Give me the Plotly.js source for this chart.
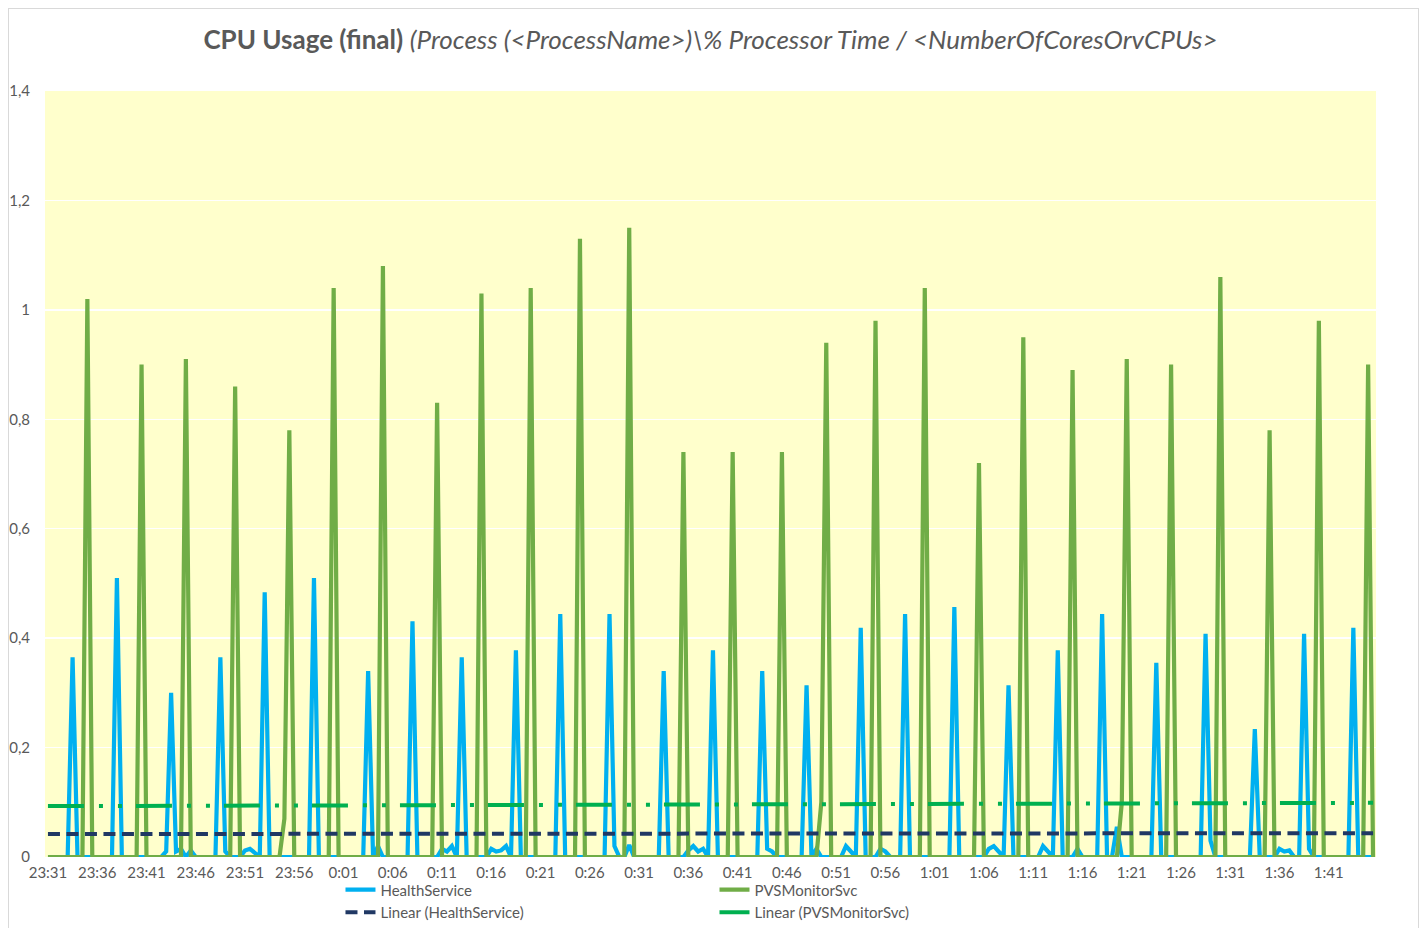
<!DOCTYPE html>
<html>
<head>
<meta charset="utf-8">
<script src="https://cdn.plot.ly/plotly-3.0.1.min.js"></script>
<style>
  html, body { margin: 0; padding: 0; background: #ffffff; overflow: hidden; }
  #frame { position: absolute; left: 8px; top: 8px; width: 1411px; height: 940px; border: 1px solid #d9d9d9; box-sizing: border-box; }
  #chart { position: absolute; left: 0; top: 0; width: 1428px; height: 928px; }
</style>
</head>
<body>
<div id="frame"></div>
<div id="chart"></div>
<script>
const hsMinutes = [0, 2.0, 2.5, 3.0, 6.5, 7.0, 7.5, 11.5, 12.0, 12.5, 13.0, 13.5, 14.0, 14.5, 15.0,
  17.0, 17.5, 18.0, 18.5, 19.5, 20.0, 20.5, 21.5, 22.0, 22.5, 26.5, 27.0, 27.5,
  32.0, 32.5, 33.0, 33.5, 34.0, 36.5, 37.0, 37.5, 39.5, 40.0, 40.5, 41.0, 41.5, 42.0, 42.5,
  44.5, 45.0, 45.5, 46.0, 46.5, 47.0, 47.5, 48.0, 51.5, 52.0, 52.5, 56.5, 57.0, 57.5, 58.0, 58.5, 59.0, 59.5,
  62.0, 62.5, 63.0, 64.5, 65.0, 65.5, 66.0, 66.5, 67.0, 67.5, 68.0,
  72.0, 72.5, 73.0, 73.5, 74.0, 76.5, 77.0, 77.5, 78.0, 78.5, 80.5, 81.0, 81.5, 82.0, 82.5, 83.0,
  84.0, 84.5, 85.0, 85.5, 86.5, 87.0, 87.5, 91.5, 92.0, 92.5, 95.0, 95.5, 96.0, 96.5, 97.0, 97.5, 98.0,
  100.5, 101.0, 101.5, 102.0, 102.5, 103.0, 104.0, 104.5, 105.0, 106.5, 107.0, 107.5, 108.0, 108.5, 109.0,
  112.0, 112.5, 113.0, 117.0, 117.5, 118.0, 118.5, 122.0, 122.5, 123.0,
  124.5, 125.0, 125.5, 126.0, 126.5, 127.0, 127.5, 128.0, 128.5, 132.0, 132.5, 133.0, 134.5];
const hsValues = [0, 0, 0.365, 0, 0, 0.51, 0, 0, 0.01, 0.30, 0.01, 0.015, 0, 0.012, 0,
  0, 0.365, 0.01, 0, 0, 0.012, 0.015, 0, 0.484, 0, 0, 0.51, 0,
  0, 0.34, 0, 0.02, 0, 0, 0.431, 0, 0, 0.015, 0.01, 0.02, 0, 0.365, 0,
  0, 0.015, 0.01, 0.012, 0.02, 0, 0.378, 0, 0, 0.444, 0, 0, 0.444, 0.02, 0, 0, 0.022, 0,
  0, 0.34, 0, 0, 0.012, 0.02, 0.01, 0.015, 0, 0.378, 0,
  0, 0.34, 0.015, 0.01, 0, 0, 0.314, 0, 0.015, 0, 0, 0.02, 0.01, 0, 0.419, 0,
  0, 0.015, 0.01, 0, 0, 0.444, 0, 0, 0.457, 0, 0, 0.015, 0.02, 0.01, 0, 0.314, 0,
  0, 0.02, 0.01, 0, 0.378, 0, 0, 0.015, 0, 0, 0.444, 0, 0, 0.055, 0,
  0, 0.355, 0, 0, 0.408, 0.03, 0, 0, 0.234, 0,
  0, 0.015, 0.01, 0.012, 0, 0, 0.408, 0.015, 0, 0, 0.419, 0, 0];

const pvsMinutes = [0, 3.5, 4.0, 4.5, 9.0, 9.5, 10.0, 13.5, 14.0, 14.5, 18.5, 19.0, 19.5,
  23.5, 24.0, 24.5, 25.0, 28.5, 29.0, 29.5, 33.5, 34.0, 34.5, 39.0, 39.5, 40.0,
  43.5, 44.0, 44.5, 48.5, 49.0, 49.5, 53.5, 54.0, 54.5, 58.5, 59.0, 59.5,
  64.0, 64.5, 65.0, 69.0, 69.5, 70.0, 74.0, 74.5, 75.0, 78.0, 78.5, 79.0, 79.5,
  83.5, 84.0, 84.5, 88.5, 89.0, 89.5, 94.0, 94.5, 95.0, 98.5, 99.0, 99.5,
  103.5, 104.0, 104.5, 108.5, 109.0, 109.5, 110.0, 113.5, 114.0, 114.5,
  118.5, 119.0, 119.5, 123.5, 124.0, 124.5, 128.5, 129.0, 129.5, 133.5, 134.0, 134.5];
const pvsValues = [0, 0, 1.02, 0, 0, 0.90, 0, 0, 0.91, 0, 0, 0.86, 0,
  0, 0.07, 0.78, 0, 0, 1.04, 0, 0, 1.08, 0, 0, 0.83, 0,
  0, 1.03, 0, 0, 1.04, 0, 0, 1.13, 0, 0, 1.15, 0,
  0, 0.74, 0, 0, 0.74, 0, 0, 0.74, 0, 0, 0.10, 0.94, 0,
  0, 0.98, 0, 0, 1.04, 0, 0, 0.72, 0, 0, 0.95, 0,
  0, 0.89, 0, 0, 0.10, 0.91, 0, 0, 0.90, 0,
  0, 1.06, 0, 0, 0.78, 0, 0, 0.98, 0, 0, 0.90, 0];

// Linear trend lines (end points)
const trendMinutes = [0, 134.5];
const hsTrend = [0.042, 0.0435];
const pvsTrend = [0.093, 0.099];

// X tick labels every 5 minutes
const tickMinutes = [0, 5, 10, 15, 20, 25, 30, 35, 40, 45, 50, 55, 60, 65, 70, 75, 80, 85, 90, 95, 100, 105, 110, 115, 120, 125, 130];
const tickLabels = ["23:31", "23:36", "23:41", "23:46", "23:51", "23:56", "0:01", "0:06", "0:11", "0:16", "0:21", "0:26", "0:31", "0:36", "0:41", "0:46", "0:51", "0:56", "1:01", "1:06", "1:11", "1:16", "1:21", "1:26", "1:31", "1:36", "1:41"];
const yTicks = [0, 0.2, 0.4, 0.6, 0.8, 1, 1.2, 1.4];
const yTickLabels = ["0", "0,2", "0,4", "0,6", "0,8", "1", "1,2", "1,4"];

const FONT = "Lato, 'Open Sans', sans-serif";
const GREY = "#595959";

const traces = [
  { x: hsMinutes, y: hsValues, type: "scatter", mode: "lines", name: "HealthService",
    line: { color: "#00B0F0", width: 4.2 }, legend: "legend" },
  { x: pvsMinutes, y: pvsValues, type: "scatter", mode: "lines", name: "PVSMonitorSvc",
    line: { color: "#70AD47", width: 4.2 }, legend: "legend2" },
  { x: trendMinutes, y: hsTrend, type: "scatter", mode: "lines", name: "Linear (HealthService)",
    line: { color: "#203864", width: 4, dash: "12px,6.5px" }, legend: "legend" },
  { x: trendMinutes, y: pvsTrend, type: "scatter", mode: "lines", name: "Linear (PVSMonitorSvc)",
    line: { color: "#00B050", width: 4, dash: "36px,15px,4px,15px,4px,14px" }, legend: "legend2" }
];

const legendCommon = {
  orientation: "v", yanchor: "top", xanchor: "left", bgcolor: "rgba(0,0,0,0)",
  font: { family: FONT, size: 15, color: GREY }, y: -0.0215
};

const layout = {
  width: 1428, height: 928,
  paper_bgcolor: "rgba(0,0,0,0)",
  plot_bgcolor: "#FFFFCC",
  margin: { l: 45, r: 52, t: 91, b: 71, autoexpand: false },
  title: {
    text: "<b>CPU Usage (final)</b> <i>(Process (&lt;ProcessName&gt;)\\% Processor Time / &lt;NumberOfCoresOrvCPUs&gt;</i>",
    font: { family: FONT, size: 26, color: GREY },
    x: 0.5, xanchor: "center", xref: "paper",
    y: 0.957, yanchor: "middle", yref: "container"
  },
  showlegend: true,
  legend: Object.assign({ x: 0.222 }, legendCommon),
  legend2: Object.assign({ x: 0.503 }, legendCommon),
  xaxis: {
    range: [-0.3, 134.8], tickmode: "array", tickvals: tickMinutes, ticktext: tickLabels,
    showgrid: false, zeroline: false, showline: false, ticks: "",
    tickfont: { family: FONT, size: 15, color: GREY }, ticklabelstandoff: 5, fixedrange: true
  },
  yaxis: {
    range: [0, 1.4], tickmode: "array", tickvals: yTicks, ticktext: yTickLabels,
    showgrid: true, gridcolor: "#ffffff", gridwidth: 1.5, zeroline: false, showline: false, ticks: "",
    tickfont: { family: FONT, size: 15, color: GREY }, ticklabelstandoff: 14, fixedrange: true
  }
};

Plotly.newPlot("chart", traces, layout, { displayModeBar: false, staticPlot: true });
</script>
</body>
</html>
